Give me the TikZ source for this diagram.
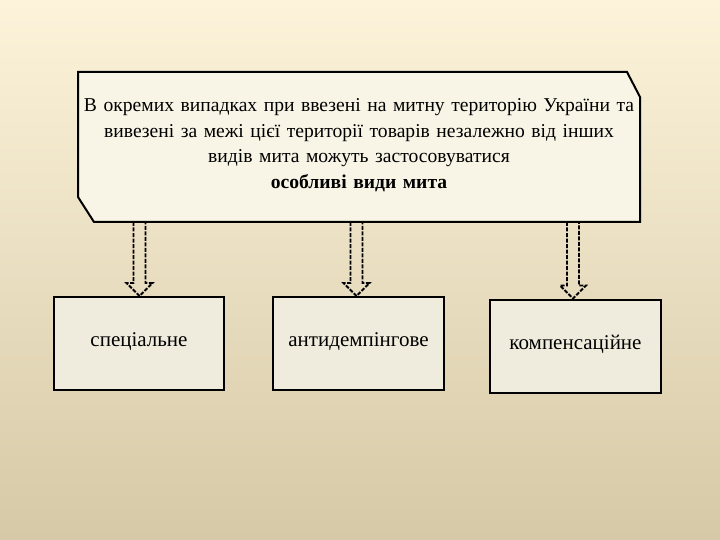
\documentclass[tikz,border=0pt]{standalone}
\usepackage{fontspec}
\setmainfont{Liberation Serif}
\usetikzlibrary{calc}
\definecolor{bgtop}{RGB}{252,243,218}
\definecolor{bgmid}{RGB}{237,231,212}
\definecolor{bgbot}{RGB}{214,201,167}
\definecolor{mainfill}{RGB}{249,245,230}
\definecolor{boxfill}{RGB}{240,236,221}
\tikzset{
  boxline/.style={draw=black, line width=2pt},
  smallbox/.style={boxline, fill=boxfill, rectangle, minimum width=170pt, minimum height=93pt, inner sep=0pt, font=\fontsize{21}{24}\selectfont},
  blockarrow/.style={draw=black, line width=1.8pt, dash pattern=on 4pt off 1.5pt, line join=miter},
}
\begin{document}
\begin{tikzpicture}[x=1pt,y=-1pt]
\shade[top color=bgtop, middle color=bgmid, bottom color=bgbot] (0,0) rectangle (720,540);
\useasboundingbox (0,0) rectangle (720,540);
% main box
\draw[boxline, fill=mainfill, line join=miter] (78,72) -- (627,72) -- (640,97) -- (640,222) -- (94,222) -- (78,197) -- cycle;
\node[text width=600pt, align=center, inner sep=0pt, font=\fontsize{19.6}{25.5}\selectfont] (main) at (359,145)
  {В окремих випадках при ввезені на митну територію України та\\
   вивезені за межі цієї території товарів незалежно від інших\\
   видів мита можуть застосовуватися\\
   \textbf{особливі види мита}};
% lower boxes
\node[smallbox] (b1) at (139,343.5) {\raisebox{7pt}{спеціальне}};
\node[smallbox, minimum width=171pt] (b2) at (358.5,343.5) {\raisebox{7pt}{антидемпінгове}};
\node[smallbox, minimum width=171pt] (b3) at (575.5,346) {\raisebox{7pt}{компенсаційне}};
% block arrows
\foreach \b/\x in {b1/139.5, b2/356.5, b3/573} {
  \coordinate (top-\b) at (\x,222);
  \coordinate (tip-\b) at (\x,0 |- \b.north);
  \draw[blockarrow]
    ($(top-\b)+(-6,0)$) -- ($(tip-\b)+(-6,-13)$) -- ($(tip-\b)+(-13,-13)$) -- (tip-\b)
    -- ($(tip-\b)+(13,-13)$) -- ($(tip-\b)+(6,-13)$) -- ($(top-\b)+(6,0)$);
}
\end{tikzpicture}
\end{document}
